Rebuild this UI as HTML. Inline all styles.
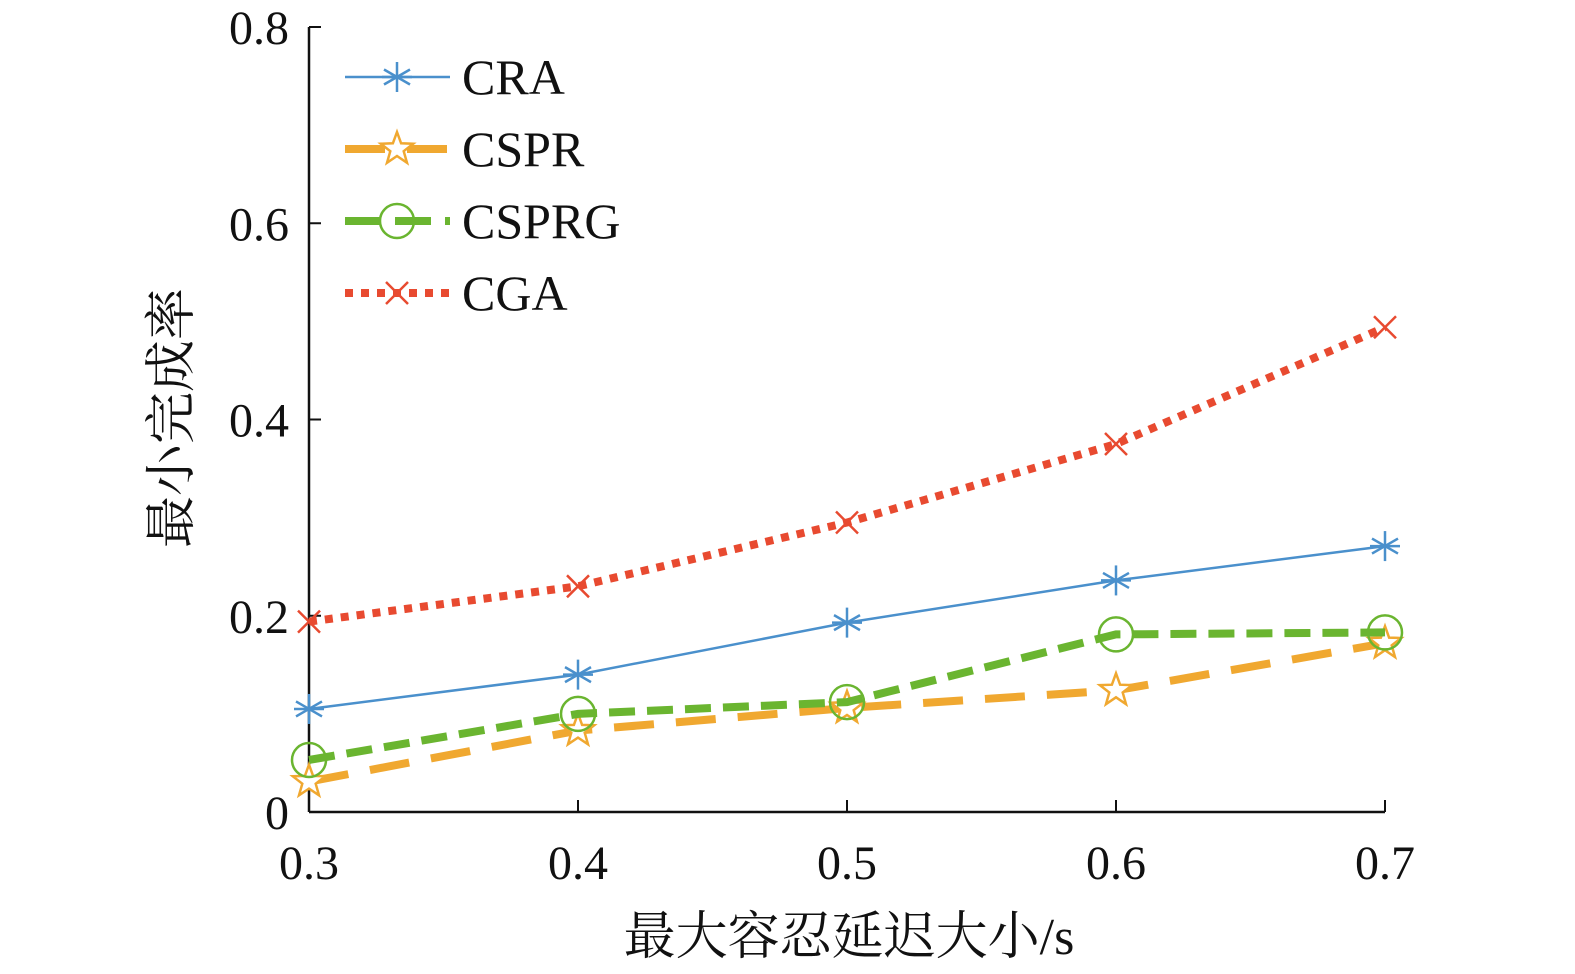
<!DOCTYPE html>
<html><head><meta charset="utf-8">
<style>
html,body{margin:0;padding:0;background:#fff;}
svg{display:block;}
text{font-family:"Liberation Serif","Noto Serif CJK SC",serif;fill:#111;}
</style></head>
<body>
<svg id="chart" width="1575" height="974" viewBox="0 0 1575 974"></svg>
<script>
const categories = [0.3, 0.4, 0.5, 0.6, 0.7];
const xTickLabels = ["0.3","0.4","0.5","0.6","0.7"];
const yTicks = [0, 0.2, 0.4, 0.6, 0.8];
const yTickLabels = ["0","0.2","0.4","0.6","0.8"];
const craValues = [0.105, 0.140, 0.193, 0.236, 0.271];
const csprValues = [0.031, 0.083, 0.106, 0.124, 0.172];
const csprgValues = [0.053, 0.100, 0.112, 0.181, 0.183];
const cgaValues = [0.194, 0.230, 0.295, 0.375, 0.494];
const seriesNames = ["CRA","CSPR","CSPRG","CGA"];

const NS = "http://www.w3.org/2000/svg";
const svg = document.getElementById("chart");
const X0 = 309, X1 = 1385, Y0 = 812, Y1 = 27;
function xScale(v){ return X0 + (v - 0.3) / 0.4 * (X1 - X0); }
function yScale(v){ return Y0 - v / 0.8 * (Y0 - Y1); }
function mk(tag, attrs, parent){
  const e = document.createElementNS(NS, tag);
  for (const k in attrs) e.setAttribute(k, attrs[k]);
  (parent || svg).appendChild(e);
  return e;
}

const axes = mk("g", {});


mk("line", {x1:X0, y1:Y1, x2:X0, y2:Y0, stroke:"#111", "stroke-width":2.5}, axes);
mk("line", {x1:X0, y1:Y0, x2:X1, y2:Y0, stroke:"#111", "stroke-width":2.5}, axes);

categories.forEach((c, i) => {
  const x = xScale(c);
  mk("line", {x1:x, y1:Y0, x2:x, y2:Y0-12, stroke:"#111", "stroke-width":2}, axes);
  const t = mk("text", {x:x, y:879, "font-size":48, "text-anchor":"middle"}, axes);
  t.textContent = xTickLabels[i];
  
  
});
yTicks.forEach((v, i) => {
  const y = yScale(v);
  mk("line", {x1:X0, y1:y, x2:X0+12, y2:y, stroke:"#111", "stroke-width":2}, axes);
  const t = mk("text", {x:289, y:y+17, "font-size":48, "text-anchor":"end"}, axes);
  t.textContent = yTickLabels[i];
  
  
});

const xt = mk("text", {x:849, y:954, "font-size":52, "text-anchor":"middle"});
xt.textContent = "最大容忍延迟大小/s";


const yt = mk("text", {x:0, y:0, "font-size":52, "text-anchor":"middle", transform:"translate(189,418) rotate(-90)"});
yt.textContent = "最小完成率";



function marker(type, x, y, color, g){
  if (type === "star6"){
    for (let a = 0; a < 3; a++){
      const ang = a * Math.PI / 3 + Math.PI/2;
      mk("line", {x1:x-15*Math.cos(ang), y1:y-15*Math.sin(ang), x2:x+15*Math.cos(ang), y2:y+15*Math.sin(ang), stroke:color, "stroke-width":2.5}, g);
    }
    mk("line", {x1:x-15, y1:y, x2:x+15, y2:y, stroke:color, "stroke-width":2.5}, g);
  } else if (type === "pentagram"){
    let pts = [];
    for (let k = 0; k < 10; k++){
      const r = k % 2 ? 7 : 17;
      const ang = -Math.PI/2 + k * Math.PI / 5;
      pts.push((x + r*Math.cos(ang)).toFixed(1) + "," + (y + r*Math.sin(ang)).toFixed(1));
    }
    mk("polygon", {points:pts.join(" "), fill:"#fff", stroke:color, "stroke-width":2.5}, g);
  } else if (type === "circle"){
    mk("circle", {cx:x, cy:y, r:17, fill:"none", stroke:color, "stroke-width":2.5}, g);
  } else if (type === "x"){
    mk("line", {x1:x-11, y1:y-11, x2:x+11, y2:y+11, stroke:color, "stroke-width":2.5}, g);
    mk("line", {x1:x-11, y1:y+11, x2:x+11, y2:y-11, stroke:color, "stroke-width":2.5}, g);
  }
}

const styles = [
  {vals:craValues, color:"#4a90cc", width:2.5, dash:"", m:"star6", name:"cra"},
  {vals:csprValues, color:"#f0a830", width:8, dash:"40,22", m:"pentagram", name:"cspr"},
  {vals:csprgValues, color:"#6ab530", width:8, dash:"26,12", m:"circle", name:"csprg"},
  {vals:cgaValues, color:"#e84a30", width:8, dash:"8,8", m:"x", name:"cga"}
];
const drawOrder = [3, 0, 1, 2];
drawOrder.forEach(i => {
  const s = styles[i];
  const g = mk("g", {});
  
  
  const pts = s.vals.map((v, j) => xScale(categories[j]) + "," + yScale(v)).join(" ");
  const attrs = {points:pts, fill:"none", stroke:s.color, "stroke-width":s.width};
  if (s.dash) attrs["stroke-dasharray"] = s.dash;
  const pl = mk("polyline", attrs, g);
  
  
  s.vals.forEach((v, j) => marker(s.m, xScale(categories[j]), yScale(v), s.color, g));
});

const lg = mk("g", {});


const legendDash = ["", "40,22", "36,14", "8,8"];
styles.forEach((s, i) => {
  const y = 77 + i * 72;
  const e = mk("g", {}, lg);
  
  
  const attrs = {x1:345, y1:y, x2:450, y2:y, stroke:s.color, "stroke-width":s.width};
  if (legendDash[i]) attrs["stroke-dasharray"] = legendDash[i];
  mk("line", attrs, e);
  marker(s.m, 397, y, s.color, e);
  const t = mk("text", {x:462, y:y+17, "font-size":50}, e);
  t.textContent = seriesNames[i];
});
</script>
</body></html>
